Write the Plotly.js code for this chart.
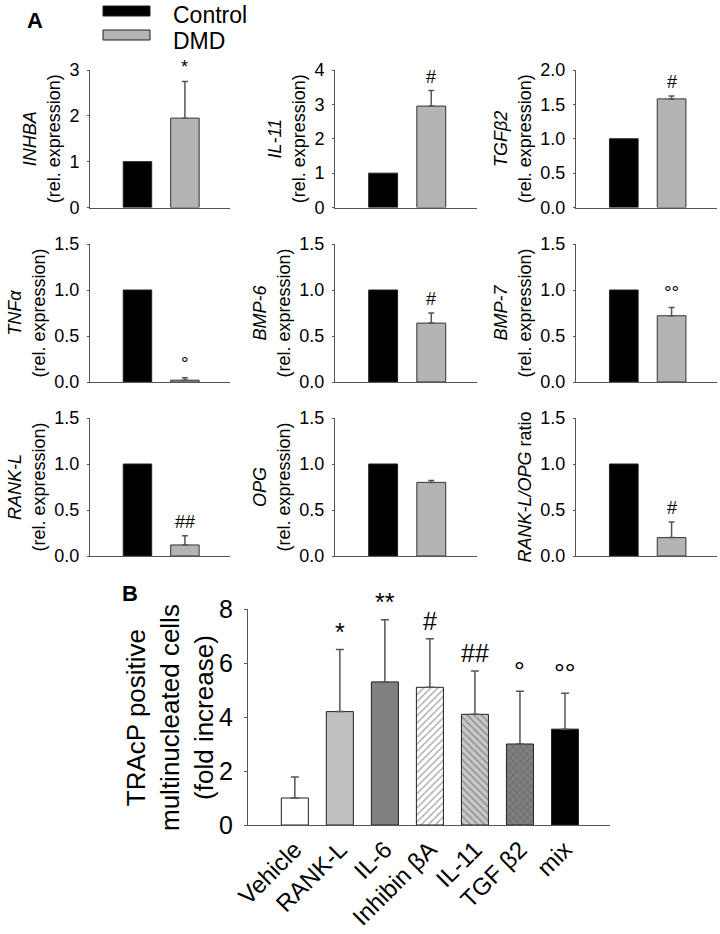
<!DOCTYPE html>
<html>
<head>
<meta charset="utf-8">
<script src="https://cdn.plot.ly/plotly-3.0.1.min.js"></script>
<style>html,body{margin:0;padding:0;background:#fff}#chart{width:720px;height:934px}</style>
</head>
<body>
<div id="chart"></div>
<script>
// ---- Panel A data ----
const groups = ["Control", "DMD"];
const genes = ["INHBA", "IL-11", "TGF&#946;2", "TNF&#945;", "BMP-6", "BMP-7", "RANK-L", "OPG", "RANK-L/OPG"];
const controlVals = [1, 1, 1, 1, 1, 1, 1, 1, 1];
const dmdVals = [1.95, 2.95, 1.58, 0.02, 0.64, 0.72, 0.12, 0.80, 0.20];
const dmdErr = [0.80, 0.45, 0.04, 0.025, 0.11, 0.09, 0.10, 0.02, 0.17];
const dmdSig = ["*", "#", "#", "°", "#", "°°", "##", "", "#"];
const yMaxA = [3, 4, 2, 1.5, 1.5, 1.5, 1.5, 1.5, 1.5];
const yStepA = [1, 1, 0.5, 0.5, 0.5, 0.5, 0.5, 0.5, 0.5];

// ---- Panel B data ----
const treatments = ["Vehicle", "RANK-L", "IL-6", "Inhibin βA", "IL-11", "TGF β2", "mix"];
const foldVals = [1.0, 4.2, 5.3, 5.1, 4.1, 3.0, 3.55];
const foldErr = [0.78, 2.3, 2.3, 1.8, 1.6, 1.95, 1.33];
const foldSig = ["", "*", "**", "#", "##", "°", "°°"];

const FONT = "'Liberation Sans', Arial, sans-serif";
const W = 720, H = 934;
const px = v => v / W;
const py = v => 1 - v / H;

const colX = [[90, 230], [335, 477], [576, 717]];
const rowY = [[70, 207.5], [244, 382], [418, 556]];

const data = [];
const layout = {
  width: W, height: H,
  margin: {l: 0, r: 0, t: 0, b: 0},
  paper_bgcolor: "#fff", plot_bgcolor: "rgba(0,0,0,0)",
  showlegend: false,
  font: {family: FONT, color: "#000"},
  bargap: 0,
  annotations: [],
  shapes: []
};

const axisLine = "#555";

genes.forEach((g, i) => {
  const n = i + 1;
  const xa = "x" + n, ya = "y" + n;
  const xk = "xaxis" + n, yk = "yaxis" + n;
  const c = i % 3, r = Math.floor(i / 3);
  data.push({
    type: "bar", x: groups.slice(0, 1), y: [controlVals[i]], xaxis: xa, yaxis: ya,
    width: 0.6, marker: {color: "#000", line: {color: "#222", width: 1}}, hoverinfo: "skip"
  });
  data.push({
    type: "bar", x: groups.slice(1, 2), y: [dmdVals[i]], xaxis: xa, yaxis: ya,
    width: 0.6, marker: {color: "#b4b4b4", line: {color: "#333", width: 1}},
    error_y: {type: "data", symmetric: false, array: [dmdErr[i]], arrayminus: [0], color: "#555", thickness: 1.5, width: 3},
    hoverinfo: "skip"
  });
  layout[xk] = {
    domain: [px(colX[c][0]), px(colX[c][1])], anchor: ya,
    type: "category", categoryorder: "array", categoryarray: groups,
    range: [-1, 1.95], showline: true, linecolor: axisLine, linewidth: 1,
    showticklabels: false, ticks: "", showgrid: false, zeroline: false, fixedrange: true
  };
  let title;
  if (i === 8) title = "<i>RANK-L/OPG</i> ratio";
  else title = "<i>" + g + "</i><br>(rel. expression)";
  layout[yk] = {
    domain: [py(rowY[r][1]), py(rowY[r][0])], anchor: xa,
    range: [0, yMaxA[i]], dtick: yStepA[i], tick0: 0,
    tickformat: yStepA[i] < 1 ? ".1f" : "d",
    showline: true, linecolor: axisLine, linewidth: 1,
    ticks: "outside", ticklen: 2, tickcolor: axisLine, ticklabelstandoff: 4,
    tickfont: {family: FONT, size: 18, color: "#000"},
    showgrid: false, zeroline: false, fixedrange: true,
    title: {text: title, font: {family: FONT, size: 18, color: "#000"}, standoff: 4}
  };
  if (dmdSig[i]) {
    layout.annotations.push({
      xref: xa, yref: ya, x: groups[1], y: dmdVals[i] + dmdErr[i],
      text: dmdSig[i], showarrow: false, yanchor: "bottom", yshift: 2,
      font: {family: FONT, size: dmdSig[i].indexOf("°") >= 0 ? 19 : 18, color: "#000"}
    });
  }
});

// Panel B
const nB = genes.length + 1;
const xB = "x" + nB, yB = "y" + nB;
const fillB = ["#ffffff", "#c0c0c0", "#808080", "#ffffff", "#c8c8c8", "#808080", "#000000"];
data.push({
  type: "bar", x: treatments, y: foldVals, xaxis: xB, yaxis: yB, width: 0.6,
  marker: {
    color: fillB,
    line: {color: "#222", width: 1},
    pattern: {
      shape: ["", "", "", "/", "\\", "x", ""],
      fillmode: "overlay",
      bgcolor: fillB,
      fgcolor: "#000", size: 5, solidity: 0.25
    }
  },
  error_y: {type: "data", symmetric: false, array: foldErr, arrayminus: foldVals.map(() => 0), color: "#555", thickness: 1.5, width: 4},
  hoverinfo: "skip"
});
layout["xaxis" + nB] = {
  domain: [px(248), px(610)], anchor: yB,
  type: "category", range: [-1.04, 7.0],
  showline: true, linecolor: axisLine, linewidth: 1,
  ticks: "", tickangle: -45, tickfont: {family: FONT, size: 24, color: "#000"},
  showgrid: false, zeroline: false, fixedrange: true
};
layout["yaxis" + nB] = {
  domain: [py(825), py(609)], anchor: xB,
  range: [0, 8], dtick: 2, tick0: 0,
  showline: true, linecolor: axisLine, linewidth: 1,
  ticks: "outside", ticklen: 3, tickcolor: axisLine, ticklabelstandoff: 6,
  tickfont: {family: FONT, size: 25, color: "#000"},
  showgrid: false, zeroline: false, fixedrange: true
};
// Panel B axis title (three lines, rotated)
layout.annotations.push({
  xref: "paper", yref: "paper", x: px(170), y: py(718),
  text: "TRAcP positive<br>multinucleated cells<br>(fold increase)",
  textangle: -90, showarrow: false, xanchor: "center", yanchor: "middle",
  font: {family: FONT, size: 26, color: "#000"}
});
treatments.forEach((t, i) => {
  if (!foldSig[i]) return;
  layout.annotations.push({
    xref: xB, yref: yB, x: t, y: foldVals[i] + foldErr[i],
    text: foldSig[i], showarrow: false, yanchor: "bottom", yshift: 2,
    font: {family: FONT, size: foldSig[i].indexOf("°") >= 0 ? 27 : 25, color: "#000"}
  });
});

// Panel letters
layout.annotations.push({xref: "paper", yref: "paper", x: px(35), y: py(21), text: "<b>A</b>", showarrow: false, xanchor: "center", yanchor: "middle", font: {family: FONT, size: 22}});
layout.annotations.push({xref: "paper", yref: "paper", x: px(130), y: py(593), text: "<b>B</b>", showarrow: false, xanchor: "center", yanchor: "middle", font: {family: FONT, size: 22}});

// Legend (drawn as keys + labels)
const legendColors = ["#000000", "#b4b4b4"];
const legendY = [[6, 16], [30, 40]];
const legendTextY = [15, 41];
groups.forEach((g, i) => {
  layout.shapes.push({type: "rect", xref: "paper", yref: "paper", x0: px(103), x1: px(150), y0: py(legendY[i][1]), y1: py(legendY[i][0]), fillcolor: legendColors[i], line: {color: "#222", width: 1}});
  layout.annotations.push({xref: "paper", yref: "paper", x: px(171), y: py(legendTextY[i]), text: g, showarrow: false, xanchor: "left", yanchor: "middle", font: {family: FONT, size: 23}});
});

Plotly.newPlot("chart", data, layout, {staticPlot: true, displayModeBar: false});
</script>
</body>
</html>
